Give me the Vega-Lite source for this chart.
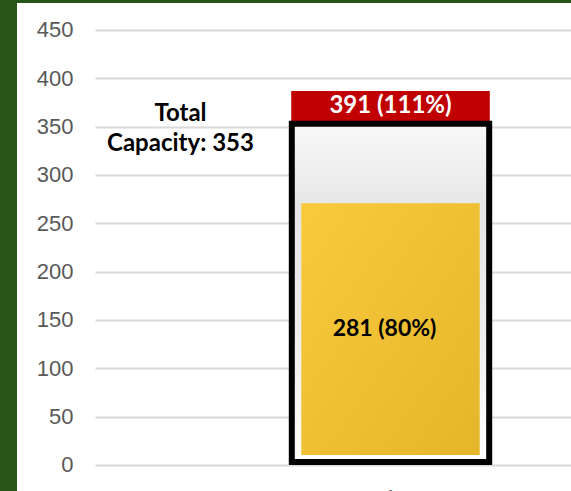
{
  "$schema": "https://vega.github.io/schema/vega-lite/v6.json",
  "background": "#28561a",
  "padding": {"left": 17, "top": 3, "right": 0, "bottom": 0},
  "config": {
    "view": {"stroke": null, "fill": "white"},
    "concat": {"spacing": 0}
  },
  "bounds": "flush",
  "spacing": 0,
  "datasets": {
    "usage": [
      {"cat": "1", "capacity": 353, "current": 281, "projected": 391,
       "currentLabel": "281 (80%)", "projectedLabel": "391 (111%)",
       "capacityLabel": "Total\nCapacity: 353"}
    ]
  },
  "hconcat": [
    {
      "width": 78,
      "height": 488,
      "view": {"fill": "white", "stroke": null},
      "data": {"values": [{"v": 0}]},
      "mark": {"type": "bar", "opacity": 0},
      "encoding": {
        "x": {"field": "v", "type": "quantitative", "axis": null},
        "y": {"field": "v", "type": "quantitative", "axis": null}
      }
    },
    {
      "width": 591,
      "height": 488,
      "data": {"name": "usage"},
      "transform": [{"calculate": "datum.current / 2", "as": "currentMid"}],
      "encoding": {
        "x": {
          "field": "cat", "type": "nominal",
          "scale": {"paddingInner": 0, "paddingOuter": 0},
          "axis": {
            "title": null, "domain": false, "ticks": false, "grid": false,
            "labelAngle": 0, "offset": -5, "labelPadding": 1,
            "labelFont": "Liberation Sans", "labelFontSize": 20, "labelColor": "#595959"
          }
        }
      },
      "layer": [
        {
          "mark": {"type": "bar", "color": "#c00000", "width": {"band": 0.336}, "yOffset": 4},
          "encoding": {
            "y": {
              "field": "projected", "type": "quantitative",
              "scale": {"domain": [-26.9, 477.9], "nice": false, "zero": false},
              "axis": {
                "title": null, "values": [0, 50, 100, 150, 200, 250, 300, 350, 400, 450],
                "domain": false, "ticks": false, "labelPadding": 22,
                "labelFont": "Liberation Sans", "labelFontSize": 22, "labelColor": "#595959",
                "gridColor": "#d9d9d9", "gridWidth": 2
              }
            },
            "y2": {"field": "capacity"}
          }
        },
        {
          "mark": {
            "type": "bar", "width": {"band": 0.334}, "stroke": "black", "strokeWidth": 6,
            "y2Offset": -3,
            "fill": {
              "gradient": "linear", "x1": 0, "y1": 0, "x2": 0, "y2": 1,
              "stops": [
                {"offset": 0, "color": "#f9f9f9"},
                {"offset": 0.25, "color": "#e6e6e6"},
                {"offset": 0.6, "color": "#ededed"},
                {"offset": 1, "color": "#ffffff"}
              ]
            }
          },
          "encoding": {
            "y": {"field": "capacity", "type": "quantitative"},
            "y2": {"datum": 0}
          }
        },
        {
          "mark": {
            "type": "bar", "width": {"band": 0.302}, "yOffset": 10, "y2Offset": -10,
            "fill": {
              "gradient": "linear", "x1": 0, "y1": 0, "x2": 1, "y2": 1,
              "stops": [
                {"offset": 0, "color": "#f8ca3c"},
                {"offset": 1, "color": "#e6b62a"}
              ]
            }
          },
          "encoding": {
            "y": {"field": "current", "type": "quantitative"},
            "y2": {"datum": 0}
          }
        },
        {
          "mark": {"type": "text", "font": "Lato", "fontWeight": "bold", "fontSize": 24,
                   "color": "white", "baseline": "middle", "dy": 19},
          "encoding": {
            "y": {"field": "projected", "type": "quantitative"},
            "text": {"field": "projectedLabel"}
          }
        },
        {
          "mark": {"type": "text", "font": "Lato", "fontWeight": "bold", "fontSize": 23,
                   "color": "black", "baseline": "middle", "dx": -6},
          "encoding": {
            "y": {"field": "currentMid", "type": "quantitative"},
            "text": {"field": "currentLabel"}
          }
        },
        {
          "mark": {"type": "text", "font": "Lato", "fontWeight": "bold", "fontSize": 24,
                   "color": "black", "baseline": "middle", "align": "center",
                   "lineBreak": "\n", "lineHeight": 30, "dx": -210, "dy": -10},
          "encoding": {
            "y": {"field": "capacity", "type": "quantitative"},
            "text": {"field": "capacityLabel"}
          }
        }
      ]
    }
  ]
}
